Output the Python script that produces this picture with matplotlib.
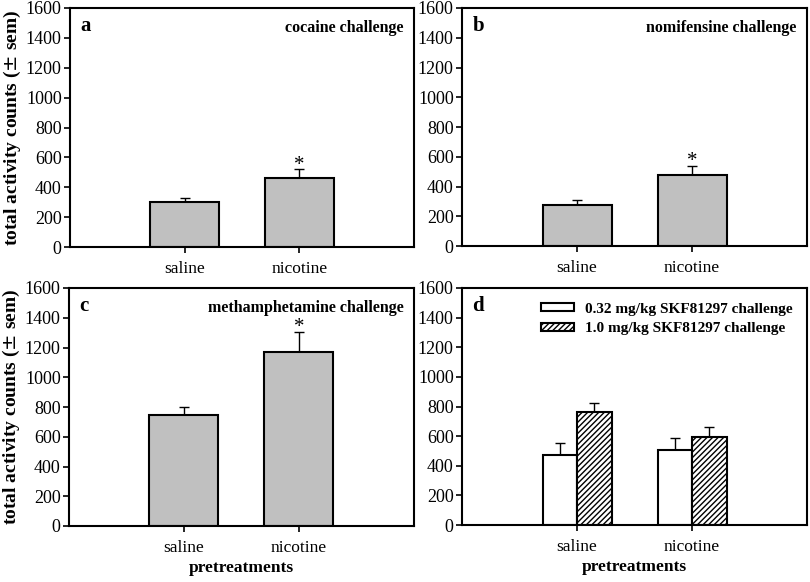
import matplotlib.pyplot as plt
import numpy as np

plt.rcParams['font.family'] = ['Liberation Serif', 'DejaVu Serif']
plt.rcParams['hatch.linewidth'] = 1.0

categories = ['saline', 'nicotine']

# panels a-c: single gray bars (mean, upper sem)
cocaine_mean = [303, 464]
cocaine_sem = [27, 58]
nomifensine_mean = [275, 475]
nomifensine_sem = [35, 65]
meth_mean = [745, 1170]
meth_sem = [57, 135]

# panel d: two SKF81297 doses
skf_low_mean = [470, 505]
skf_low_sem = [85, 85]
skf_high_mean = [765, 595]
skf_high_sem = [60, 68]
skf_labels = ['0.32 mg/kg SKF81297 challenge', '1.0 mg/kg SKF81297 challenge']

fig = plt.figure(figsize=(8.1, 5.82), dpi=100)
W, H = 810, 582

def make_ax(left, top, right, bottom):
    return fig.add_axes([left / W, 1 - bottom / H, (right - left) / W, (bottom - top) / H])

ax_a = make_ax(70, 8, 414, 247)
ax_b = make_ax(462, 8, 807, 246)
ax_c = make_ax(69, 288, 414, 526)
ax_d = make_ax(462, 288, 807, 525)

x = np.arange(len(categories))

def style(ax):
    ax.set_xlim(-1.0, 2.0)
    ax.set_ylim(0, 1600)
    ax.set_yticks(range(0, 1601, 200))
    ax.set_xticks(x)
    ax.set_xticklabels(categories, fontsize=12.5)
    ax.tick_params(axis='y', labelsize=13, length=4, width=1.2, direction='out', pad=2)
    ax.tick_params(axis='x', length=4, width=1.2, direction='out', pad=6)
    for s in ax.spines.values():
        s.set_linewidth(1.5)

def single_panel(ax, means, sems, letter, title):
    ax.bar(x, means, width=0.6, color='#c0c0c0', edgecolor='black', linewidth=1.5, zorder=2)
    ax.errorbar(x, means, yerr=[np.zeros(len(sems)), sems], fmt='none',
                ecolor='black', elinewidth=1.0, capsize=3.5, capthick=1.0, zorder=1)
    # significance star over nicotine
    ax.annotate('*', (x[1], means[1] + sems[1]), xytext=(0, -4), textcoords='offset points',
                ha='center', va='bottom', fontsize=15)
    ax.text(0.03, 0.965, letter, transform=ax.transAxes, ha='left', va='top',
            fontsize=15, fontweight='bold')
    ax.text(0.97, 0.95, title, transform=ax.transAxes, ha='right', va='top',
            fontsize=11.5, fontweight='bold')
    style(ax)

single_panel(ax_a, cocaine_mean, cocaine_sem, 'a', 'cocaine challenge')
single_panel(ax_b, nomifensine_mean, nomifensine_sem, 'b', 'nomifensine challenge')
single_panel(ax_c, meth_mean, meth_sem, 'c', 'methamphetamine challenge')

# panel d
w = 0.3
ax_d.bar(x - w / 2, skf_low_mean, width=w, color='white', edgecolor='black',
         linewidth=1.5, label=skf_labels[0], zorder=2)
ax_d.bar(x + w / 2, skf_high_mean, width=w, color='white', edgecolor='black',
         linewidth=1.5, hatch='//////', label=skf_labels[1], zorder=2)
ax_d.errorbar(x - w / 2, skf_low_mean, yerr=[np.zeros(2), skf_low_sem], fmt='none',
              ecolor='black', elinewidth=1.0, capsize=3.5, capthick=1.0, zorder=1)
ax_d.errorbar(x + w / 2, skf_high_mean, yerr=[np.zeros(2), skf_high_sem], fmt='none',
              ecolor='black', elinewidth=1.0, capsize=3.5, capthick=1.0, zorder=1)
ax_d.text(0.03, 0.965, 'd', transform=ax_d.transAxes, ha='left', va='top',
          fontsize=15, fontweight='bold')
ax_d.legend(loc='upper right', bbox_to_anchor=(1.0, 1.0), frameon=False,
            prop={'weight': 'bold', 'size': 11}, handlelength=2.2, handleheight=0.45,
            handletextpad=0.7, labelspacing=0.45, borderaxespad=0.55)
style(ax_d)

for ax in (ax_a, ax_c):
    ax.set_ylabel('total activity counts ($\\pm$ sem)', fontsize=14, fontweight='bold', labelpad=2)
for ax in (ax_c, ax_d):
    ax.set_xlabel('pretreatments', fontsize=12.5, fontweight='bold', labelpad=3)

fig.savefig('out.png', dpi=100)
